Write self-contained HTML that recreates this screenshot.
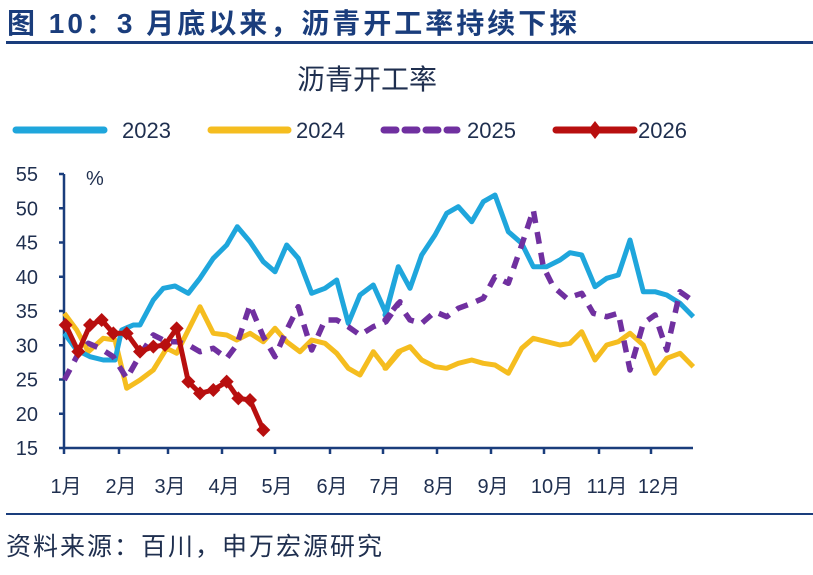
<!DOCTYPE html>
<html><head><meta charset="utf-8">
<style>
body{margin:0;background:#fff;width:813px;height:570px;overflow:hidden;font-family:"Liberation Sans","Noto Sans CJK SC",sans-serif;}
</style></head><body>
<svg id="s" width="813" height="570" xmlns="http://www.w3.org/2000/svg" font-family="Liberation Sans, Noto Sans CJK SC, sans-serif">
<text x="7" y="33" font-size="28" font-weight="bold" fill="#1a3d7c" letter-spacing="3" font-family="Liberation Sans, Noto Sans CJK SC, sans-serif">图 10：3 月底以来，沥青开工率持续下探</text>
<rect x="6" y="41" width="807" height="3" fill="#1a3d7c"/>
<text x="367" y="89" font-size="28" fill="#1f2f4f" text-anchor="middle">沥青开工率</text>
<line x1="16" y1="130" x2="104" y2="130" stroke="#1fa6dc" stroke-width="7" stroke-linecap="round"/>
<text x="122" y="138" font-size="22" fill="#1f2f4f">2023</text>
<line x1="211" y1="130" x2="288" y2="130" stroke="#f5bd1f" stroke-width="7" stroke-linecap="round"/>
<text x="296" y="138" font-size="22" fill="#1f2f4f">2024</text>
<line x1="384" y1="130" x2="457" y2="130" stroke="#7030a0" stroke-width="7" stroke-dasharray="12,9" stroke-linecap="round"/>
<text x="467" y="138" font-size="22" fill="#1f2f4f">2025</text>
<line x1="556" y1="130" x2="634" y2="130" stroke="#b80f0f" stroke-width="7" stroke-linecap="round"/>
<path d="M595 121 L602 130 L595 139 L588 130Z" fill="#b80f0f"/>
<text x="638" y="138" font-size="22" fill="#1f2f4f">2026</text>
<g id="axes" stroke="#1a3d7c" stroke-width="2.5" fill="none"></g>
<g id="lbl" font-size="20" fill="#1f2f4f"></g>
<g id="ser"></g>
<rect x="6" y="513" width="807" height="2" fill="#1a3d7c"/>
<text x="6" y="555" font-size="25" letter-spacing="2" fill="#1f2f4f">资料来源：百川，申万宏源研究</text>
</svg>
<script>
var NS="http://www.w3.org/2000/svg";
function el(p,t,a,txt){var e=document.createElementNS(NS,t);for(var k in a)e.setAttribute(k,a[k]);if(txt)e.textContent=txt;document.getElementById(p).appendChild(e);return e;}
var y0=448,x0=64,x1=693;
el("axes","path",{d:"M"+x0+" 174 L"+x0+" "+y0+" L"+x1+" "+y0});
for(var v=15;v<=55;v+=5){var y=y0-(v-15)*6.85;el("axes","line",{x1:x0-5,y1:y,x2:x0,y2:y});el("lbl","text",{x:38,y:y+7,"text-anchor":"end"},""+v);}
el("lbl","text",{x:86,y:185},"%");
var tk=[64,119,168,222,275,330,383,437,491,544,599,651];
tk.forEach(function(t,i){el("axes","line",{x1:t,y1:y0,x2:t,y2:y0+6});el("lbl","text",{x:t+(i>=9?8:2),y:493,"text-anchor":"middle"},(i+1)+"月");});
function pts(a,b){var r=[];for(var i=0;i<a.length;i+=2)r.push([a[i]/3,160+a[i+1]/3]);for(i=0;i<b.length;i+=2)r.push([380+b[i]/3,160+b[i+1]/3]);return r;}
function poly(p,attrs){attrs.points=p.map(function(q){return q[0].toFixed(1)+","+q[1].toFixed(1)}).join(" ");attrs.fill="none";attrs["stroke-linejoin"]="round";return el("ser","polyline",attrs);}
var b23=pts([193,520,230,570,270,590,310,600,345,600,365,510,400,495,420,495,460,420,490,385,525,378,565,400,600,355,640,295,680,255,712,200,750,245,790,305,825,335,860,255,895,295,935,400,975,385,1010,360,1045,490,1080,405,1120,375,1158,460,1195,320],[15,465,55,320,90,385,125,285,165,225,200,160,235,140,275,185,310,125,345,105,385,215,425,250,460,320,500,320,540,300,570,278,605,285,645,380,680,355,715,345,750,240,790,395,825,395,860,405,900,430,940,470]);
var y24=pts([193,460,230,510,265,575,310,535,345,540,380,685,420,660,460,630,500,565,530,580,565,510,600,440,640,520,680,525,710,540,750,520,790,545,825,505,860,545,900,575,935,540,975,550,1010,580,1045,625,1080,645,1120,575,1158,625,1200,575],[15,625,55,575,90,560,125,600,165,620,200,625,235,610,275,600,310,610,345,615,385,640,425,565,460,535,500,545,540,555,570,550,605,515,645,600,680,555,715,545,750,520,790,555,825,640,860,595,900,580,940,620]);
var p25=pts([193,660,230,590,265,550,300,565,340,590,380,655,420,585,460,525,500,545,530,545,565,555,600,575,640,565,680,595,710,555,750,435,790,530,825,590,860,510,895,440,935,570,975,480,1010,480,1045,500,1080,525,1120,500,1158,485,1200,425],[15,480,55,430,90,480,125,490,165,455,200,470,235,445,275,430,310,415,345,350,385,370,425,255,460,150,490,320,520,380,560,415,605,400,640,460,680,470,715,460,750,630,790,490,825,465,860,570,900,395,935,420]);
var r26=pts([197,495,235,575,270,495,305,480,340,520,380,520,420,575,460,560,495,555,530,505,565,665,600,700,640,690,680,665,715,715,750,720,790,810],[]);
poly(y24,{stroke:"#f5bd1f","stroke-width":5});
poly(b23,{stroke:"#1fa6dc","stroke-width":5});
poly(p25,{stroke:"#7030a0","stroke-width":5.5,"stroke-dasharray":"12,9"});
poly(r26,{stroke:"#b80f0f","stroke-width":5});
r26.forEach(function(q){el("ser","path",{d:"M"+q[0]+" "+(q[1]-7)+" L"+(q[0]+7)+" "+q[1]+" L"+q[0]+" "+(q[1]+7)+" L"+(q[0]-7)+" "+q[1]+"Z",fill:"#b80f0f"});});
</script>
</body></html>
